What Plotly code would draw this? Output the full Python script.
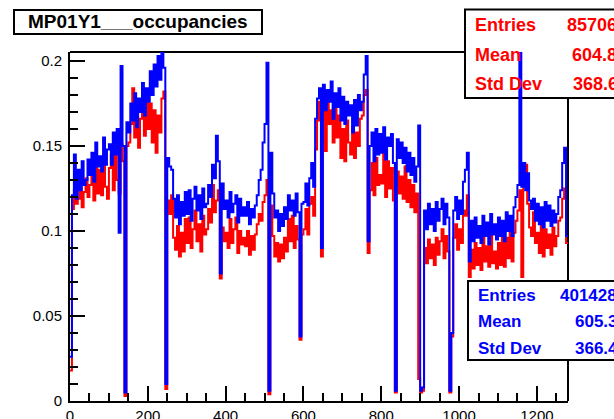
import plotly.graph_objects as go

# ---------------- data (bin width 5, range 0..1280) ----------------
bin_width = 5
x_min, x_max = 0, 1280

blue_vals = [
    0.026, 0.121, 0.145, 0.119, 0.136, 0.124, 0.141, 0.127, 0.130, 0.142,
    0.133, 0.146, 0.129, 0.152, 0.138, 0.144, 0.135, 0.155, 0.139, 0.148,
    0.151, 0.139, 0.158, 0.145, 0.160, 0.099, 0.197, 0.150, 0.005, 0.164,
    0.158, 0.175, 0.165, 0.181, 0.161, 0.178, 0.170, 0.187, 0.168, 0.184,
    0.176, 0.194, 0.180, 0.198, 0.185, 0.203, 0.189, 0.205, 0.196, 0.010,
    0.143, 0.138, 0.136, 0.119, 0.108, 0.121, 0.104, 0.117, 0.109, 0.123,
    0.110, 0.124, 0.106, 0.119, 0.126, 0.112, 0.121, 0.107, 0.125, 0.114,
    0.116, 0.127, 0.120, 0.139, 0.131, 0.156, 0.141, 0.075, 0.128, 0.113,
    0.118, 0.108, 0.123, 0.111, 0.116, 0.121, 0.105, 0.119, 0.109, 0.114,
    0.109, 0.117, 0.104, 0.113, 0.108, 0.115, 0.121, 0.130, 0.136, 0.152,
    0.163, 0.199, 0.006, 0.146, 0.122, 0.108, 0.112, 0.100, 0.110, 0.103,
    0.114, 0.107, 0.121, 0.112, 0.118, 0.109, 0.122, 0.111, 0.038, 0.116,
    0.117, 0.128, 0.115, 0.131, 0.140, 0.126, 0.166, 0.178, 0.184, 0.090,
    0.186, 0.171, 0.183, 0.176, 0.188, 0.166, 0.181, 0.173, 0.184, 0.165,
    0.179, 0.163, 0.176, 0.168, 0.174, 0.158, 0.177, 0.162, 0.180, 0.171,
    0.176, 0.192, 0.203, 0.094, 0.150, 0.158, 0.141, 0.160, 0.145, 0.157,
    0.146, 0.161, 0.142, 0.155, 0.150, 0.157, 0.140, 0.006, 0.154, 0.143,
    0.152, 0.140, 0.149, 0.135, 0.146, 0.133, 0.143, 0.129, 0.138, 0.162,
    0.006, 0.008, 0.112, 0.101, 0.116, 0.104, 0.113, 0.100, 0.117, 0.106,
    0.113, 0.119, 0.104, 0.116, 0.108, 0.006, 0.040, 0.112, 0.120, 0.107,
    0.118, 0.110, 0.129, 0.136, 0.146, 0.082, 0.106, 0.094, 0.108, 0.096,
    0.103, 0.093, 0.109, 0.097, 0.105, 0.092, 0.110, 0.098, 0.104, 0.095,
    0.108, 0.097, 0.106, 0.094, 0.111, 0.100, 0.109, 0.097, 0.114, 0.120,
    0.127, 0.205, 0.126, 0.140, 0.124, 0.134, 0.118, 0.113, 0.119, 0.106,
    0.116, 0.104, 0.114, 0.102, 0.117, 0.106, 0.115, 0.103, 0.112, 0.105,
    0.110, 0.120, 0.124, 0.140, 0.149, 0.097,
]

red_vals = [
    0.018, 0.113, 0.124, 0.116, 0.119, 0.128, 0.114, 0.123, 0.131, 0.120,
    0.127, 0.135, 0.118, 0.141, 0.122, 0.136, 0.121, 0.143, 0.126, 0.119,
    0.137, 0.145, 0.124, 0.147, 0.130, 0.122, 0.151, 0.141, 0.003, 0.150,
    0.152, 0.163, 0.184, 0.155, 0.170, 0.149, 0.166, 0.174, 0.156, 0.178,
    0.160, 0.175, 0.152, 0.171, 0.146, 0.168, 0.158, 0.178, 0.182, 0.007,
    0.118, 0.110, 0.121, 0.096, 0.089, 0.103, 0.085, 0.099, 0.088, 0.107,
    0.093, 0.108, 0.090, 0.101, 0.112, 0.094, 0.104, 0.088, 0.109, 0.098,
    0.101, 0.113, 0.105, 0.127, 0.111, 0.118, 0.124, 0.072, 0.102, 0.094,
    0.099, 0.090, 0.107, 0.093, 0.101, 0.108, 0.087, 0.100, 0.092, 0.096,
    0.091, 0.100, 0.086, 0.097, 0.089, 0.098, 0.104, 0.110, 0.106, 0.117,
    0.121, 0.130, 0.004, 0.115, 0.097, 0.085, 0.093, 0.082, 0.092, 0.084,
    0.096, 0.088, 0.107, 0.094, 0.109, 0.090, 0.103, 0.095, 0.036, 0.098,
    0.101, 0.113, 0.098, 0.116, 0.120, 0.109, 0.148, 0.165, 0.176, 0.085,
    0.175, 0.147, 0.180, 0.163, 0.171, 0.152, 0.178, 0.155, 0.168, 0.143,
    0.160, 0.141, 0.165, 0.152, 0.145, 0.161, 0.143, 0.158, 0.150, 0.166,
    0.168, 0.180, 0.183, 0.087, 0.124, 0.140, 0.121, 0.143, 0.127, 0.133,
    0.128, 0.146, 0.120, 0.141, 0.125, 0.137, 0.118, 0.005, 0.135, 0.122,
    0.132, 0.119, 0.138, 0.117, 0.130, 0.114, 0.127, 0.111, 0.122, 0.013,
    0.005, 0.006, 0.090, 0.081, 0.095, 0.084, 0.092, 0.080, 0.096, 0.086,
    0.094, 0.101, 0.084, 0.097, 0.088, 0.005, 0.038, 0.096, 0.104, 0.089,
    0.101, 0.093, 0.112, 0.109, 0.121, 0.073, 0.089, 0.078, 0.093, 0.080,
    0.090, 0.077, 0.096, 0.082, 0.091, 0.079, 0.097, 0.081, 0.088, 0.078,
    0.093, 0.080, 0.098, 0.079, 0.096, 0.084, 0.101, 0.082, 0.099, 0.106,
    0.112, 0.124, 0.073, 0.133, 0.139, 0.116, 0.102, 0.097, 0.111, 0.093,
    0.099, 0.087, 0.104, 0.085, 0.101, 0.090, 0.098, 0.086, 0.102, 0.091,
    0.097, 0.106, 0.108, 0.119, 0.125, 0.093,
]

title_text = "MP01Y1___occupancies"
red_stats = [("Entries", "85706"), ("Mean", "604.8"), ("Std Dev", "368.6")]
blue_stats = [("Entries", "401428"), ("Mean", "605.3"), ("Std Dev", "366.4")]
x_tick_vals = [0, 200, 400, 600, 800, 1000, 1200]
y_tick_vals = [0, 0.05, 0.1, 0.15, 0.2]
y_tick_text = ["0", "0.05", "0.1", "0.15", "0.2"]

# ---------------- figure ----------------
W, H = 614, 419
L, R, T, B = 70, 568, 52, 401
FONT = "Liberation Sans, Arial, Helvetica, sans-serif"


def fx(px):  # page pixel -> paper x
    return (px - L) / (R - L)


def fy(py):  # page pixel -> paper y
    return (B - py) / (B - T)


def steps(vals):
    xs = [x_min + i * bin_width for i in range(len(vals))] + [x_max]
    ys = list(vals) + [vals[-1]]
    return xs, ys


fig = go.Figure()
for vals, col in ((red_vals, "#ff0000"), (blue_vals, "#0000ff")):
    xs, ys = steps(vals)
    fig.add_trace(go.Scatter(x=xs, y=ys, mode="lines", line=dict(color=col, width=2, shape="hv"),
                             hoverinfo="skip", showlegend=False))

shapes = [
    dict(type="line", xref="paper", yref="paper", x0=0, x1=1, y0=1, y1=1,
         line=dict(color="black", width=2), layer="below"),
    dict(type="line", xref="paper", yref="paper", x0=1, x1=1, y0=0, y1=1,
         line=dict(color="black", width=2), layer="below"),
    dict(type="rect", xref="paper", yref="paper", x0=fx(465), x1=fx(660), y0=fy(98), y1=fy(9.5),
         line=dict(color="black", width=2), fillcolor="white", layer="below"),
    dict(type="rect", xref="paper", yref="paper", x0=fx(468), x1=fx(660), y0=fy(360), y1=fy(281),
         line=dict(color="black", width=2), fillcolor="white", layer="above"),
    dict(type="rect", xref="paper", yref="paper", x0=fx(14), x1=fx(262), y0=fy(34), y1=fy(10),
         line=dict(color="black", width=2), fillcolor="white", layer="above"),
]

annotations = [
    dict(text="<b>%s</b>" % title_text, xref="paper", yref="paper", x=fx(138), y=fy(22),
         xanchor="center", yanchor="middle", showarrow=False,
         font=dict(family=FONT, size=19, color="black")),
]
for (lab, val), py, vx in zip(red_stats, [25, 55, 84], [565, 570, 571]):
    annotations.append(dict(text="<b>%s</b>" % lab, xref="paper", yref="paper", x=fx(473), y=fy(py),
                            xanchor="left", yanchor="middle", showarrow=False,
                            font=dict(family=FONT, size=18, color="#ff0000")))
    annotations.append(dict(text="<b>%s</b>" % val, xref="paper", yref="paper", x=fx(vx), y=fy(py),
                            xanchor="left", yanchor="middle", showarrow=False,
                            font=dict(family=FONT, size=18, color="#ff0000")))
for (lab, val), py, vx in zip(blue_stats, [295, 321.5, 348], [558, 573, 573]):
    annotations.append(dict(text="<b>%s</b>" % lab, xref="paper", yref="paper", x=fx(476), y=fy(py),
                            xanchor="left", yanchor="middle", showarrow=False,
                            font=dict(family=FONT, size=17, color="#0000ff")))
    annotations.append(dict(text="<b>%s</b>" % val, xref="paper", yref="paper", x=fx(vx), y=fy(py),
                            xanchor="left", yanchor="middle", showarrow=False,
                            font=dict(family=FONT, size=17, color="#0000ff")))

fig.update_layout(
    width=W, height=H,
    margin=dict(l=L, r=W - R, t=T, b=H - B, pad=0, autoexpand=False),
    paper_bgcolor="white", plot_bgcolor="rgba(0,0,0,0)",
    showlegend=False,
    shapes=shapes, annotations=annotations,
    font=dict(family=FONT, size=15, color="black"),
)
fig.update_xaxes(range=[x_min, x_max], tickvals=x_tick_vals, ticks="inside", ticklen=15, tickwidth=2,
                 tickcolor="black", showline=True, linecolor="black", linewidth=2, showgrid=False,
                 zeroline=False, automargin=False, tickfont=dict(family=FONT, size=15, color="black"),
                 minor=dict(dtick=50, ticks="inside", ticklen=8, tickwidth=2, tickcolor="black", showgrid=False))
fig.update_yaxes(range=[0, 0.2053], tickvals=y_tick_vals, ticktext=y_tick_text, ticks="inside", ticklen=15,
                 tickwidth=2, tickcolor="black", showline=True, linecolor="black", linewidth=2,
                 showgrid=False, zeroline=False, automargin=False, ticklabelstandoff=3,
                 tickfont=dict(family=FONT, size=15, color="black"),
                 minor=dict(dtick=0.01, ticks="inside", ticklen=8, tickwidth=2, tickcolor="black", showgrid=False))

fig.write_html(
    "out.html",
    config={"displayModeBar": False},
    post_script="document.body.style.margin='0';document.body.style.overflow='hidden';",
)
